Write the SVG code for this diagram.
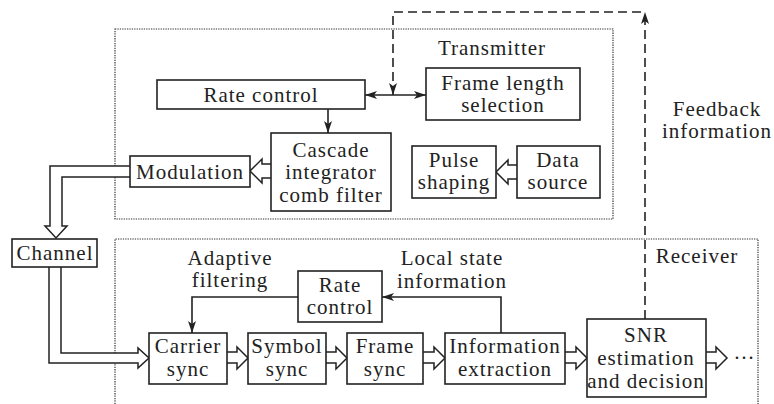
<svg xmlns="http://www.w3.org/2000/svg" width="774" height="404" viewBox="0 0 774 404">
<style>
.box{fill:#fff;stroke:#222;stroke-width:1.6}
.grp{fill:none;stroke:#333;stroke-width:1.2;stroke-dasharray:1.3 1.1}
text{font-family:'Liberation Serif','Times New Roman',Times,'DejaVu Serif',serif;font-size:21px;letter-spacing:1px;fill:#222;text-anchor:middle}
.ln{fill:none;stroke:#222;stroke-width:1.6}
.dash{fill:none;stroke:#222;stroke-width:1.6;stroke-dasharray:9 5}
.hol{fill:#fff;stroke:#222;stroke-width:1.5;stroke-linejoin:miter}
</style>
<defs>
<marker id="ah" markerUnits="userSpaceOnUse" markerWidth="14" markerHeight="10" refX="12" refY="4" orient="auto-start-reverse">
<path d="M0,0 L12,4 L0,8 L3,4 Z" fill="#222"/>
</marker>
</defs>
<rect class="grp" x="115" y="29" width="498" height="190"/>
<path class="grp" d="M115,404 V239 H758 V404"/>
<g id="transmitter-label"><text x="492" y="55">Transmitter</text></g>
<g id="receiver-label"><text x="697" y="263">Receiver</text></g>
<g id="feedback-label"><text x="717" y="116">Feedback</text><text x="717" y="138">information</text></g>
<g id="adaptive-label"><text x="230" y="265">Adaptive</text><text x="230" y="287">filtering</text></g>
<g id="localstate-label"><text x="452" y="265">Local state</text><text x="452" y="288">information</text></g>
<g id="connectors">
<path class="ln" d="M365,95 H426" marker-start="url(#ah)" marker-end="url(#ah)"/>
<path class="ln" d="M328,109 V133" marker-end="url(#ah)"/>
<path class="dash" d="M645,319 V12" marker-end="url(#ah)"/>
<path class="dash" d="M641,12 H393 V95" marker-end="url(#ah)"/>
<path class="ln" d="M501,333 V297 H382" marker-end="url(#ah)"/>
<path class="ln" d="M298,297 H192 V333" marker-end="url(#ah)"/>
<polyline class="hol" points="517,165 508,165 508,160 496,172 508,184 508,179 517,179"/>
<polyline class="hol" points="271,164 262,164 262,159 250,171 262,183 262,178 271,178"/>
<polyline class="hol" points="130,166 50,166 50,226 45,226 56,238 67,226 62,226 62,177 130,177"/>
<polyline class="hol" points="49,267 49,363 138,363 138,368 149,358 138,348 138,353 61,353 61,267"/>
<polyline class="hol" points="227,352 237,352 237,347 248,358 237,369 237,363 227,363"/>
<polyline class="hol" points="326,352 336,352 336,347 347,358 336,369 336,363 326,363"/>
<polyline class="hol" points="423,352 434,352 434,347 445,358 434,369 434,363 423,363"/>
<polyline class="hol" points="565,352 576,352 576,347 587,358 576,369 576,363 565,363"/>
<polyline class="hol" points="706,352 716,352 716,347 727,358 716,369 716,363 706,363"/>
</g>
<g id="rate-control-tx"><rect class="box" x="157" y="80" width="208" height="29"/><text x="261" y="102">Rate control</text></g>
<g id="frame-length"><rect class="box" x="426" y="68" width="154" height="52"/><text x="503" y="90">Frame length</text><text x="503" y="112">selection</text></g>
<g id="cic"><rect class="box" x="271" y="133" width="120" height="78"/><text x="331" y="157">Cascade</text><text x="331" y="179">integrator</text><text x="331" y="202">comb filter</text></g>
<g id="modulation"><rect class="box" x="130" y="156" width="120" height="31"/><text x="190" y="179">Modulation</text></g>
<g id="pulse"><rect class="box" x="412" y="146" width="84" height="52"/><text x="454" y="167">Pulse</text><text x="454" y="189">shaping</text></g>
<g id="data-source"><rect class="box" x="517" y="146" width="83" height="52"/><text x="558" y="167">Data</text><text x="558" y="189">source</text></g>
<g id="channel"><rect class="box" x="12" y="239" width="85" height="28"/><text x="55" y="260">Channel</text></g>
<g id="rate-control-rx"><rect class="box" x="298" y="271" width="84" height="51"/><text x="340" y="292">Rate</text><text x="340" y="314">control</text></g>
<g id="carrier"><rect class="box" x="149" y="333" width="78" height="51"/><text x="188" y="353">Carrier</text><text x="188" y="376">sync</text></g>
<g id="symbol"><rect class="box" x="248" y="333" width="78" height="51"/><text x="287" y="353">Symbol</text><text x="287" y="376">sync</text></g>
<g id="frame-sync"><rect class="box" x="347" y="333" width="76" height="51"/><text x="385" y="353">Frame</text><text x="385" y="376">sync</text></g>
<g id="info-extract"><rect class="box" x="445" y="333" width="120" height="51"/><text x="505" y="353">Information</text><text x="505" y="376">extraction</text></g>
<g id="snr"><rect class="box" x="587" y="319" width="119" height="78"/><text x="646" y="342">SNR</text><text x="646" y="365">estimation</text><text x="646" y="388">and decision</text></g>
<g id="ellipsis"><text x="744" y="359" style="letter-spacing:0">…</text></g>
</svg>
